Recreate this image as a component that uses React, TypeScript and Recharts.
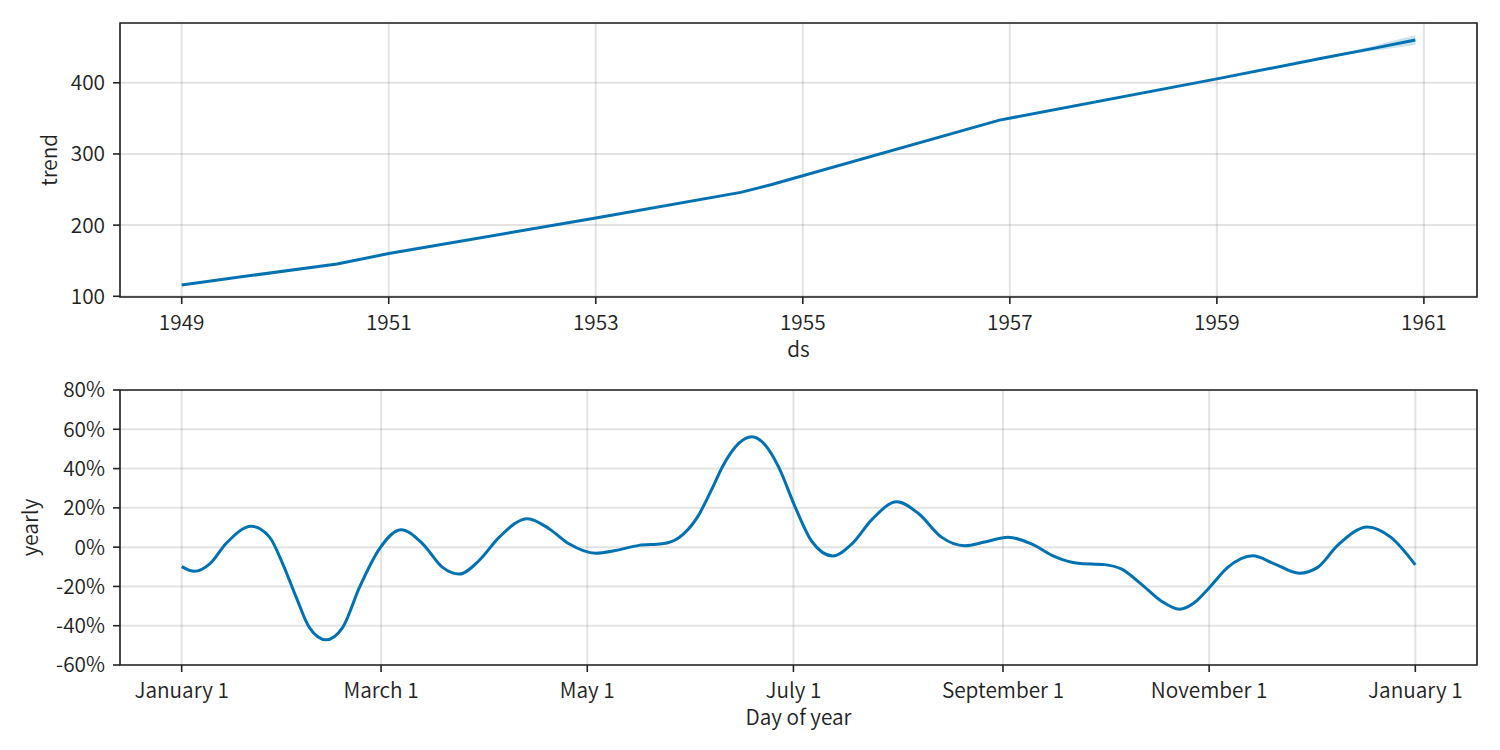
import {
  ComposedChart,
  LineChart,
  Line,
  Area,
  XAxis,
  YAxis,
  CartesianGrid,
  ReferenceArea,
} from 'recharts';

const FONT = '"Noto Sans CJK KR", "Noto Sans", sans-serif';
const INK = '#222222';
const BLUE = '#0072B2';
const FS = 20.8;
const FW = 350;

// trend panel (vertices of the piecewise-linear trend)
const trendYears = [1949, 1950.5, 1951, 1953, 1954.4, 1954.7, 1956.9, 1959, 1960, 1960.5, 1960.917];
const trendValues = [116, 145.5, 160, 210, 246, 257, 347.5, 405.5, 434, 448, 460];
const bandLower: (number | null)[] = [null, null, null, null, null, null, null, null, 434, 444.5, 453];
const bandUpper: (number | null)[] = [null, null, null, null, null, null, null, null, 434, 451.5, 467];
const yearTicks = [1949, 1951, 1953, 1955, 1957, 1959, 1961];
const trendTicks = [100, 200, 300, 400];

// yearly seasonality panel (day of year, percent)
const seasonDays = [
  0, 3.8, 8.3, 13.2, 20.6, 26, 29.9, 33.9, 37.8, 42.7, 47.6, 52.6, 58.5, 64.9, 71.3, 77.2, 82.1, 88,
  93.9, 102.3, 108.7, 114.6, 122.5, 128.4, 135.3, 142.1, 147.1, 152.5, 157, 160, 164.8, 168.7, 172.7,
  176.6, 181.5, 186.4, 192.7, 198.3, 204.2, 211.6, 218, 224.8, 231.7, 237.6, 244.5,
  251.4, 258.3, 265.2, 273.1, 278, 283.9, 289.8, 295.2, 299.7, 304.1, 309.5, 316.9, 323.3, 330.7,
  336.1, 342, 350.9, 357.7, 365,
];
const seasonValues = [
  -9.9, -12.3, -8.5, 2, 10.6, 5.1, -8.5, -25.6, -41, -47.2, -41, -20.5, -0.9, 8.9, 1.7, -10.3, -13.7, -6.8,
  5, 14.5, 9.4, 1.7, -3.1, -1.7, 0.9, 1.7, 4.8, 15, 30, 40.9, 52.8, 56.2, 51.9,
  40.9, 20.5, 3, -4.5, 1.7, 14, 23.1, 17.1, 5.1, 0.7, 2.6, 5.1,
  1.7, -4.8, -8.2, -8.9, -11.1, -18.8, -27.4, -31.6, -28.2, -20.5, -10.3, -4.4, -8.5, -13.3,
  -10.3, 0.9, 10.3, 5.1, -9,
];
const dayTicks = [0, 59, 120, 181, 243, 304, 365];
const dayTickLabels = ['January 1', 'March 1', 'May 1', 'July 1', 'September 1', 'November 1', 'January 1'];
const pctTicks = [-60, -40, -20, 0, 20, 40, 60, 80];

const trendData = trendYears.map((x, i) => ({
  x,
  trend: trendValues[i],
  band: bandLower[i] == null ? null : [bandLower[i], bandUpper[i]],
}));
const seasonData = seasonDays.map((x, i) => ({ x, yearly: seasonValues[i] }));

const YEAR_DOMAIN: [number, number] = [1948.404, 1961.513];
const TREND_DOMAIN: [number, number] = [99, 484];
const DAY_DOMAIN: [number, number] = [-18.25, 383.25];
const PCT_DOMAIN: [number, number] = [-60, 80];

const tickStyle = { fontSize: FS, fill: INK, fontFamily: FONT, fontWeight: FW };

const title = (text: string, x: number, y: number, rotate = false) => () =>
  (
    <text
      x={0}
      y={0}
      transform={rotate ? `translate(${x},${y}) rotate(-90)` : `translate(${x},${y})`}
      textAnchor="middle"
      fontSize={FS}
      fontWeight={FW}
      fill={INK}
      fontFamily={FONT}
    >
      {text}
    </text>
  );

const svgStyle = { overflow: 'visible' as const, display: 'block' };

export default function App() {
  return (
    <div style={{ position: 'absolute', left: 0, top: 0, width: 1500, height: 750, background: '#fff' }}>
      <div style={{ position: 'absolute', left: 0, top: 0 }}>
        <ComposedChart
          width={1500}
          height={375}
          data={trendData}
          margin={{ top: 23, right: 23, bottom: 0, left: 0 }}
          style={svgStyle}
        >
          <CartesianGrid stroke="gray" strokeOpacity={0.22} strokeWidth={2} />
          <XAxis
            dataKey="x"
            type="number"
            domain={YEAR_DOMAIN}
            ticks={yearTicks}
            interval={0}
            allowDataOverflow
            height={78}
            axisLine={false}
            tickLine={{ stroke: INK, strokeWidth: 1.6 }}
            tickSize={7}
            tickMargin={11}
            tick={tickStyle}
            label={{ content: title('ds', 798.5, 357) }}
          />
          <YAxis
            type="number"
            domain={TREND_DOMAIN}
            ticks={trendTicks}
            interval={0}
            allowDataOverflow
            width={120}
            axisLine={false}
            tickLine={{ stroke: INK, strokeWidth: 1.6 }}
            tickSize={7}
            tickMargin={8}
            tick={tickStyle}
            label={{ content: title('trend', 57, 160, true) }}
          />
          <Area
            dataKey="band"
            type="linear"
            stroke="none"
            fill={BLUE}
            fillOpacity={0.2}
            isAnimationActive={false}
            activeDot={false}
          />
          <Line
            dataKey="trend"
            type="linear"
            stroke={BLUE}
            strokeWidth={3}
            dot={false}
            activeDot={false}
            isAnimationActive={false}
          />
          <ReferenceArea
            x1={YEAR_DOMAIN[0]}
            x2={YEAR_DOMAIN[1]}
            y1={TREND_DOMAIN[0]}
            y2={TREND_DOMAIN[1]}
            fill="none"
            stroke={INK}
            strokeWidth={1.6}
            ifOverflow="visible"
          />
        </ComposedChart>
      </div>
      <div style={{ position: 'absolute', left: 0, top: 360 }}>
        <LineChart
          width={1500}
          height={390}
          data={seasonData}
          margin={{ top: 30, right: 23, bottom: 0, left: 0 }}
          style={svgStyle}
        >
          <CartesianGrid stroke="gray" strokeOpacity={0.22} strokeWidth={2} />
          <XAxis
            dataKey="x"
            type="number"
            domain={DAY_DOMAIN}
            ticks={dayTicks}
            interval={0}
            allowDataOverflow
            height={85}
            axisLine={false}
            tickLine={{ stroke: INK, strokeWidth: 1.6 }}
            tickSize={7}
            tickMargin={11}
            tick={tickStyle}
            tickFormatter={(v: number) => dayTickLabels[dayTicks.indexOf(v)]}
            label={{ content: title('Day of year', 798.5, 365) }}
          />
          <YAxis
            type="number"
            domain={PCT_DOMAIN}
            ticks={pctTicks}
            interval={0}
            allowDataOverflow
            width={120}
            axisLine={false}
            tickLine={{ stroke: INK, strokeWidth: 1.6 }}
            tickSize={7}
            tickMargin={8}
            tick={tickStyle}
            tickFormatter={(v: number) => `${v}%`}
            label={{ content: title('yearly', 38, 167.5, true) }}
          />
          <Line
            dataKey="yearly"
            type="monotone"
            stroke={BLUE}
            strokeWidth={3}
            dot={false}
            activeDot={false}
            isAnimationActive={false}
          />
          <ReferenceArea
            x1={DAY_DOMAIN[0]}
            x2={DAY_DOMAIN[1]}
            y1={PCT_DOMAIN[0]}
            y2={PCT_DOMAIN[1]}
            fill="none"
            stroke={INK}
            strokeWidth={1.6}
            ifOverflow="visible"
          />
        </LineChart>
      </div>
    </div>
  );
}
